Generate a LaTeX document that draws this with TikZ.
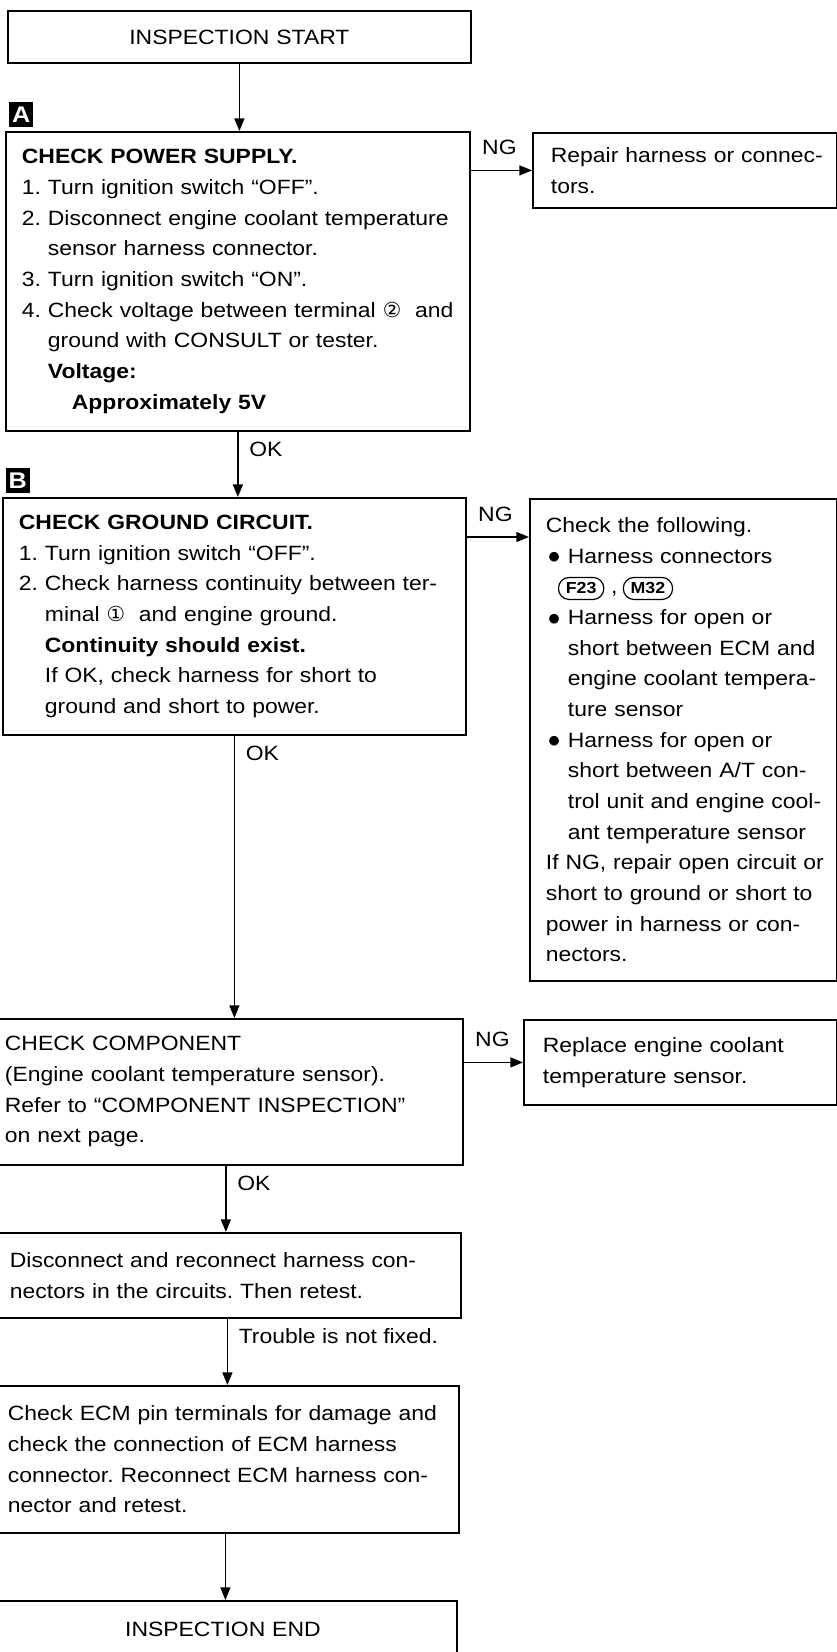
\documentclass[tikz,border=0pt]{standalone}
\usepackage{fontspec}
\setmainfont{Liberation Sans}[FakeStretch=1.11]
\newfontfamily\circfont{DejaVu Sans}
\frenchspacing
\usetikzlibrary{arrows.meta,positioning}
\tikzset{
  proc/.style={rectangle,draw=black,line width=1.35pt,anchor=north west,
               align=left,inner xsep=2pt,inner ysep=0pt,
               execute at begin node={\leftskip=#1\relax}},
  proc/.default=10pt,
  term/.style={rectangle,draw=black,line width=1.35pt,anchor=north west,
               align=center,inner xsep=2pt,inner ysep=0pt},
  tag/.style={rectangle,fill=black,text=white,inner sep=0pt,
              minimum width=18pt,minimum height=18.5pt,
              font=\fontsize{17}{17}\selectfont\bfseries},
  flow/.style={-{Triangle[length=9.5pt,width=7.5pt]},line width=1.1pt},
  lbl/.style={inner sep=0pt},
}
\newcommand{\ind}{\hphantom{2.\ }}
\newcommand{\bul}{\hspace*{2pt}\makebox[14.5pt][l]{\raisebox{1.8pt}{\circfont\fontsize{9.5}{9.5}\selectfont ●}}}
\newcommand{\bin}{\hspace*{16.5pt}}
\newcommand{\circnum}[1]{{\circfont #1}}
\newcommand{\conn}[1]{\tikz[baseline=(cn.base)]\node[draw,line width=0.9pt,
  text width=,minimum width=0pt,minimum height=0pt,anchor=center,
  rounded corners=8pt,inner xsep=5.5pt,inner ysep=4pt,
  font=\fontsize{12}{12}\selectfont\bfseries] (cn) {#1};}

\begin{document}
\begin{tikzpicture}[x=0.75pt,y=-0.75pt,font=\fontsize{15.5}{23}\selectfont]
  \useasboundingbox (0,0) rectangle (837,1652);
  % left column
  \node[term,text width=343.25pt,minimum height=39pt] (start) at (7,10) {INSPECTION START};
  \node[proc,text width=344pt,minimum height=224.25pt] (pwr) at (5,131) {%
    \textbf{CHECK POWER SUPPLY.}\\
    1. Turn ignition switch “OFF”.\\
    2. Disconnect engine coolant temperature\\
    \ind sensor harness connector.\\
    3. Turn ignition switch “ON”.\\
    4. Check voltage between terminal \circnum{②}\ \ and\\
    \ind ground with CONSULT or tester.\\
    \ind\textbf{Voltage:}\\
    \ind\hspace*{18pt}\textbf{Approximately 5V}};
  \node[tag,above right=3pt and 3pt of pwr.north west] (tagA) {A};
  \node[proc,text width=343.25pt,minimum height=177.75pt] (gnd) at (2,497) {%
    \textbf{CHECK GROUND CIRCUIT.}\\
    1. Turn ignition switch “OFF”.\\
    2. Check harness continuity between ter-\\
    \ind minal \circnum{①}\ \ and engine ground.\\
    \ind\textbf{Continuity should exist.}\\
    \ind If OK, check harness for short to\\
    \ind ground and short to power.};
  \node[tag,above right=3pt and 2.5pt of gnd.north west] (tagB) {B};
  \node[proc,text width=351.5pt,minimum height=109.5pt] (comp) at (-12,1018) {%
    CHECK COMPONENT\\
    (Engine coolant temperature sensor).\\
    Refer to “COMPONENT INSPECTION”\\
    on next page.};
  \node[proc,text width=346.25pt,minimum height=63.75pt] (disc) at (-7,1232) {%
    Disconnect and reconnect harness con-\\
    nectors in the circuits. Then retest.};
  \node[proc,text width=346.25pt,minimum height=110.25pt] (ecm) at (-9,1385) {%
    Check ECM pin terminals for damage and\\
    check the connection of ECM harness\\
    connector. Reconnect ECM harness con-\\
    nector and retest.};
  \node[term,text width=347pt,minimum height=42pt] (fin) at (-12,1600) {INSPECTION END};
  % right column
  \node[proc=11.5pt,text width=224pt,minimum height=56.25pt] (rep) at (532,132) {%
    Repair harness or connec-\\
    tors.};
  \node[proc,text width=226.25pt,minimum height=361.5pt] (chk) at (529,498) {%
    Check the following.\\
    \bul Harness connectors\\
    \hspace*{9pt}\conn{F23}\hspace{5pt},\hspace{4pt}\conn{M32}\\
    \bul Harness for open or\\
    \bin short between ECM and\\
    \bin engine coolant tempera-\\
    \bin ture sensor\\
    \bul Harness for open or\\
    \bin short between A/T con-\\
    \bin trol unit and engine cool-\\
    \bin ant temperature sensor\\
    If NG, repair open circuit or\\
    short to ground or short to\\
    power in harness or con-\\
    nectors.};
  \node[proc=12.25pt,text width=230.75pt,minimum height=63.75pt] (repl) at (523,1019) {%
    Replace engine coolant\\
    temperature sensor.};
  % connectors
  \draw[flow] (start.south) -- (start.south |- pwr.north);
  \draw[flow] (pwr.east |- rep.west) -- (rep.west)
    node[lbl,pos=0,anchor=south west,xshift=8pt,yshift=11pt] {NG};
  \draw[flow] (pwr.south) -- (pwr.south |- gnd.north)
    node[lbl,pos=0,anchor=north west,xshift=8pt,yshift=-7pt] {OK};
  \coordinate (ngB) at ([yshift=-30pt]gnd.north east);
  \draw[flow] (ngB) -- (ngB -| chk.west)
    node[lbl,pos=0,anchor=south west,xshift=8pt,yshift=11pt] {NG};
  \draw[flow] (gnd.south) -- (gnd.south |- comp.north)
    node[lbl,pos=0,anchor=north west,xshift=8pt,yshift=-7pt] {OK};
  \draw[flow] (comp.east |- repl.west) -- (repl.west)
    node[lbl,pos=0,anchor=south west,xshift=8pt,yshift=11pt] {NG};
  \draw[flow] (comp.south) -- (comp.south |- disc.north)
    node[lbl,pos=0,anchor=north west,xshift=8pt,yshift=-7pt] {OK};
  \draw[flow] (disc.south) -- (disc.south |- ecm.north)
    node[lbl,pos=0,anchor=north west,xshift=8pt,yshift=-7pt] {Trouble is not fixed.};
  \draw[flow] (ecm.south) -- (ecm.south |- fin.north);
\end{tikzpicture}
\end{document}
